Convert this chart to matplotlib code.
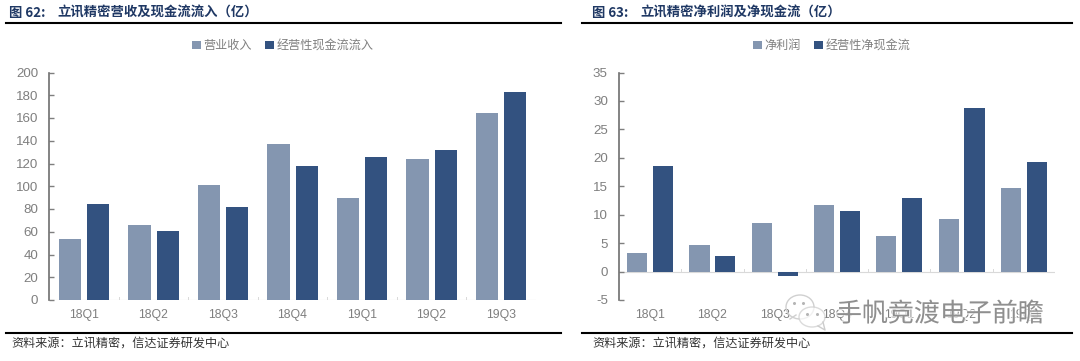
import matplotlib
matplotlib.use("Agg")
import matplotlib.pyplot as plt
import matplotlib.patheffects as pe
from matplotlib.patches import Ellipse
from matplotlib.lines import Line2D
from matplotlib.transforms import blended_transform_factory
import numpy as np

plt.rcParams['font.family'] = ['Noto Sans CJK SC', 'DejaVu Sans']
plt.rcParams['axes.unicode_minus'] = False

W, H = 1080, 361

# data
quarters = ['18Q1', '18Q2', '18Q3', '18Q4', '19Q1', '19Q2', '19Q3']
revenue = [54, 66, 101, 137, 90, 124, 164]
op_inflow = [84, 61, 82, 118, 126, 132, 183]
net_profit = [3.2, 4.6, 8.6, 11.7, 6.3, 9.2, 14.7]
op_net_cf = [18.6, 2.8, -0.7, 10.7, 13, 28.8, 19.2]

LIGHT = '#8496b0'
DARK = '#335280'
GREY = '#7f7f7f'
TITLE = '#1f3864'


def px_axes(x0, x1, ytop, ybot):
    return fig.add_axes([x0 / W, 1 - ybot / H, (x1 - x0) / W, (ybot - ytop) / H])


def bars(ax, a, b, names, width, gap, ymin, ymax, step, label_y):
    x = np.arange(len(quarters))
    ax.bar(x - (width + gap) / 2, a, width, color=LIGHT, label=names[0])
    ax.bar(x + (width + gap) / 2, b, width, color=DARK, label=names[1])
    ax.set_xlim(-0.5, len(quarters) - 0.5)
    ax.set_ylim(ymin, ymax)
    ax.set_yticks(np.arange(ymin, ymax + 1, step))
    ax.set_xticks(x)
    ax.set_xticklabels([])
    # quarter labels sit below the plot, not at the zero line
    trans = blended_transform_factory(ax.transData, fig.transFigure)
    for i, q in enumerate(quarters):
        ax.text(i, 1 - label_y / H, q, transform=trans, ha='center', va='center', fontsize=8.8,
                color=GREY, family=['Liberation Sans'], clip_on=False)
    for lab in ax.get_yticklabels():
        lab.set_fontfamily(['Liberation Sans'])
    ax.tick_params(axis='y', direction='in', length=3.5, width=1, color=GREY,
                   labelcolor=GREY, labelsize=9.6, pad=8)
    ax.tick_params(axis='x', length=0)
    for s in ['top', 'right', 'bottom']:
        ax.spines[s].set_visible(False)
    ax.spines['left'].set_color('#6e6e6e')
    ax.spines['left'].set_linewidth(1.2)
    # category axis sits at zero with small ticks between groups
    ax.axhline(0, color='#d9d9d9', lw=0.8, zorder=0)
    for t in np.arange(0.5, len(quarters) + 0.1, 1):
        ax.plot([t, t], [0, (ymax - ymin) * 0.012], color='#d9d9d9', lw=0.7, zorder=0)
    ax.patch.set_alpha(0)


fig = plt.figure(figsize=(W / 100, H / 100), dpi=100)

ax1 = px_axes(49.3, 535.8, 72.5, 300)
bars(ax1, revenue, op_inflow, ['营业收入', '经营性现金流流入'], 0.32, 0.086, 0, 200, 20, 314.7)

ax2 = px_axes(619, 1055, 72.5, 300)
bars(ax2, net_profit, op_net_cf, ['净利润', '经营性净现金流'], 0.325, 0.09, -5, 35, 5, 315)

# legends
for ax, cx in [(ax1, 283), (ax2, 832)]:
    fig.legend(*ax.get_legend_handles_labels(), loc='center', bbox_to_anchor=(cx / W, 1 - 45.5 / H),
               ncol=2, frameon=False, fontsize=8.7, labelcolor=GREY, handlelength=0.7, handleheight=0.7,
               handletextpad=0.25, columnspacing=1.1)


def ftext(x, y, s, **kw):
    fig.text(x / W, 1 - y / H, s, va='center', **kw)


def rule(x0, x1, y, lw):
    fig.add_artist(Line2D([x0 / W, x1 / W], [1 - y / H, 1 - y / H], color='black', lw=lw))


# titles, rules, sources
ftext(9, 13, '图 62:', fontsize=9.6, fontweight='bold', color=TITLE)
ftext(57, 13, '立讯精密营收及现金流流入（亿）', fontsize=9.6, fontweight='bold', color=TITLE)
ftext(592, 13, '图 63:', fontsize=9.6, fontweight='bold', color=TITLE)
ftext(640, 13, '立讯精密净利润及净现金流（亿）', fontsize=9.6, fontweight='bold', color=TITLE)
rule(6, 561, 22.7, 1.5)
rule(582, 1072, 22.7, 1.5)
rule(6, 561, 333.3, 1.5)
rule(582, 1072, 333.3, 1.5)
ftext(11, 343.5, '资料来源：立讯精密，信达证券研发中心', fontsize=8.7, style='italic', color='#333333')
ftext(592, 343.5, '资料来源：立讯精密，信达证券研发中心', fontsize=8.7, style='italic', color='#333333')

# watermark
bg = fig.add_axes([0, 0, 1, 1])
bg.set_xlim(0, W)
bg.set_ylim(H, 0)
bg.axis('off')
bg.patch.set_alpha(0)
bg.add_patch(Ellipse((800, 307), 28, 24, fill=False, ec='#d0d0d0', lw=1))
bg.plot([790, 796], [319, 315], color='#d0d0d0', lw=1)
bg.add_patch(Ellipse((812, 317), 26, 20, fc='white', ec='#cccccc', lw=1, alpha=0.7))
bg.plot([818, 825, 823], [326, 330, 322], color='#cccccc', lw=1)
bg.plot([794, 803, 807, 817], [303, 303, 314, 314], ls='none', marker='o', ms=1.2, color='#b5b5b5')
bg.text(836, 314, '手帆竞渡电子前瞻', fontsize=18.7, color='#8f8f8f', va='center',
        path_effects=[pe.withStroke(linewidth=2, foreground='white', alpha=0.7)])

fig.savefig('out.png', dpi=100)
